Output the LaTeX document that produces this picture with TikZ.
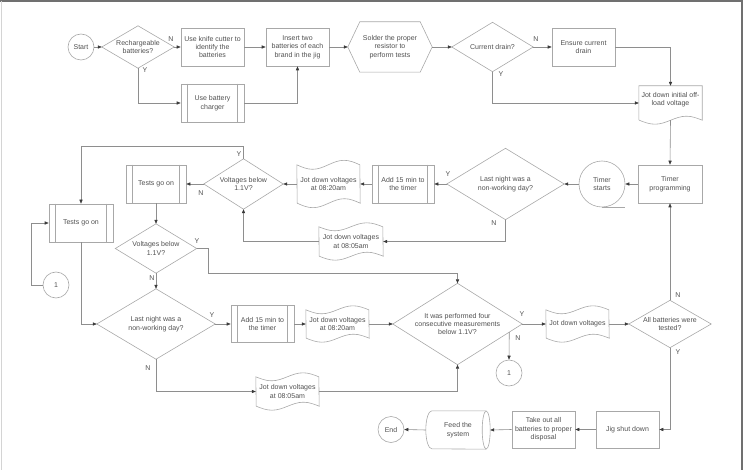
\documentclass[tikz,border=0pt]{standalone}
\usepackage{fontspec}
\setmainfont{Liberation Sans}
\usetikzlibrary{arrows.meta,calc}
\definecolor{shpc}{HTML}{A8A8A8}
\definecolor{conc}{HTML}{8E8E8E}
\definecolor{txtc}{HTML}{505050}
\definecolor{arrc}{HTML}{3A3A3A}
\definecolor{frdark}{HTML}{707070}
\definecolor{frlight}{HTML}{D4D4D4}
\tikzset{
 shp/.style={draw=shpc, line width=0.6pt},
 txt/.style={font=\fontsize{7}{8.4}\selectfont, text=txtc, align=center, inner sep=0pt},
 ghost/.style={txt, rectangle},
 procbox/.style={txt, shp, rectangle, minimum width=63pt, minimum height=38pt},
 roundn/.style={txt, shp, circle, minimum size=26pt},
 con/.style={draw=conc, line width=0.6pt, -{Triangle[length=4pt,width=3.2pt,color=arrc]}},
 yn/.style={font=\fontsize{7}{8}\selectfont, text=txtc, inner sep=0pt},
}
\newcommand\mydiam[1]{\draw[shp] (#1.west) -- (#1.north) -- (#1.east) -- (#1.south) -- cycle;}
\newcommand\mypred[1]{\draw[shp] ([xshift=7pt]#1.north west) -- ([xshift=7pt]#1.south west) ([xshift=-7pt]#1.north east) -- ([xshift=-7pt]#1.south east);}
\newcommand\mytape[7]{%
 \node[ghost, minimum width=#4pt, minimum height=#5pt] (#1) at (#2,#3) {#7};
 \draw[shp] (#1.north west) sin ++(#4/4,#6) cos ++(#4/4,-#6) sin ++(#4/4,-#6) cos ++(#4/4,#6) -- (#1.south east) sin ++(-#4/4,-#6) cos ++(-#4/4,#6) sin ++(-#4/4,#6) cos ++(-#4/4,-#6) -- cycle;
}
\newcommand\mydoc[7]{%
 \node[ghost, minimum width=#4pt, minimum height=#5pt] (#1) at (#2,#3) {};
 \node[txt] (#1t) at ([yshift=3.5pt]#1.center) {#7};
 \draw[shp] (#1.south west) -- (#1.north west) -- (#1.north east) -- (#1.south east) sin ++(-#4/4,-#6) cos ++(-#4/4,#6) sin ++(-#4/4,#6) cos ++(-#4/4,-#6);
}
\begin{document}
\begin{tikzpicture}[x=1pt,y=-1pt]
\useasboundingbox (0,0) rectangle (746,470);
\draw[frdark, line width=1.5pt] (0,1) -- (742,1) -- (742,470);
\draw[frlight, line width=1pt] (1,1) -- (1,470);

% row 1
\node[roundn] (start) at (81,47) {Start};
\node[ghost, minimum width=72pt, minimum height=42pt] (rech) at (138,47) {Rechargeable\\batteries?};
\mydiam{rech}
\node[procbox] (knife) at (212.5,47) {Use knife cutter to\\identify the\\batteries};
\node[procbox] (charger) at (212.5,103) {Use battery\\charger};
\mypred{charger}
\node[procbox] (insert) at (297.5,47) {Insert two\\batteries of each\\brand in the jig};
\node[ghost, minimum width=84pt, minimum height=50pt] (solder) at (390,47) {Solder the proper\\resistor to\\perform tests};
\draw[shp] (solder.west) -- ([xshift=12pt]solder.north west) -- ([xshift=-12pt]solder.north east) -- (solder.east) -- ([xshift=-12pt]solder.south east) -- ([xshift=12pt]solder.south west) -- cycle;
\node[ghost, minimum width=81pt, minimum height=49pt] (cdrain) at (492.5,47) {Current drain?};
\mydiam{cdrain}
\node[procbox] (ensure) at (583.5,47) {Ensure current\\drain};
\mydoc{initial}{670.5}{103}{63}{34}{4}{Jot down initial off-\\load voltage}

% row 2
\node[procbox, minimum width=64pt] (tprog) at (670,184) {Timer\\programming};
\node[roundn, minimum size=46pt] (tstart) at (602,184) {Timer\\starts};
\draw[shp] (tstart.south) -- ++(23,0);
\node[ghost, minimum width=117pt, minimum height=71pt] (last1) at (505.5,184) {Last night was a\\non-working day?};
\mydiam{last1}
\node[procbox, minimum width=62pt] (add1) at (403,184) {Add 15 min to\\the timer};
\mypred{add1}
\mytape{tapeA}{328.5}{184}{63}{38}{4.5}{Jot down voltages\\at 08:20am}
\mytape{tapeB}{351}{241.5}{64}{29}{4}{Jot down voltages\\at 08:05am}
\node[ghost, minimum width=79pt, minimum height=50pt] (volt1) at (243.5,184) {Voltages below\\1.1V?};
\mydiam{volt1}
\node[procbox, minimum width=60pt] (tests1) at (156,184) {Tests go on};
\mypred{tests1}
\node[procbox, minimum width=64pt] (tests2) at (81,223) {Tests go on};
\mypred{tests2}
\node[roundn] (conA) at (56,285) {1};
\node[ghost, minimum width=81pt, minimum height=49pt] (volt2) at (156,248.5) {Voltages below\\1.1V?};
\mydiam{volt2}

% row 3
\node[ghost, minimum width=118pt, minimum height=70pt] (last2) at (156,324) {Last night was a\\non-working day?};
\mydiam{last2}
\node[procbox, minimum height=37pt] (add2) at (262.5,324) {Add 15 min to\\the timer};
\mypred{add2}
\mytape{tapeC}{337.5}{324}{63}{28}{4}{Jot down voltages\\at 08:20am}
\mytape{tapeD}{287.5}{391.5}{63}{29}{4}{Jot down voltages\\at 08:05am}
\node[ghost, minimum width=129pt, minimum height=81pt] (perf) at (457.5,324) {It was performed four\\consecutive measurements\\below 1.1V?};
\mydiam{perf}
\node[roundn] (conB) at (509,373) {1};
\mytape{jot}{577.5}{324}{63}{28}{4}{Jot down voltages};
\node[ghost, minimum width=82pt, minimum height=47pt] (allbat) at (670,324) {All batteries were\\tested?};
\mydiam{allbat}

% row 4
\node[procbox, minimum height=37pt] (jig) at (627.5,429.5) {Jig shut down};
\node[procbox, minimum height=37pt] (takeout) at (543.5,429.5) {Take out all\\batteries to proper\\disposal};
\node[ghost, minimum width=64pt, minimum height=38pt] (feed) at (458,430) {Feed the\\system};
\draw[shp] ([xshift=-4pt]feed.north east) -- ([xshift=6pt]feed.north west) arc[start angle=270,end angle=90,x radius=6,y radius=19] -- ([xshift=-4pt]feed.south east);
\draw[shp] ([xshift=-4pt]feed.east) ellipse [x radius=4, y radius=19];
\node[roundn] (endn) at (391,429.5) {End};

% connectors
\draw[con] (start.east) -- (rech.west);
\draw[con] (rech.east) -- (knife.west);
\draw[con] (rech.south) |- (charger.west);
\draw[con] (knife.east) -- (insert.west);
\draw[con] (charger.east) -| (insert.south);
\draw[con] (insert.east) -- (solder.west);
\draw[con] (solder.east) -- (cdrain.west);
\draw[con] (cdrain.east) -- (ensure.west);
\draw[con] (ensure.east) -| (initial.north);
\draw[con] (cdrain.south) |- (initial.west);
\draw[con] (initial.south) -- (tprog.north);
\draw[con] (tprog.west) -- (tstart.east);
\draw[con] (tstart.west) -- (last1.east);
\draw[con] (last1.west) -- (add1.east);
\draw[con] (last1.south) |- (tapeB.east);
\draw[con] (add1.west) -- (tapeA.east);
\draw[con] (tapeA.west) -- (volt1.east);
\draw[con] (tapeB.west) -| (volt1.south);
\draw[con] (volt1.west) -- (tests1.east);
\draw[con] (volt1.north) -- ++(0,-12) -| (tests2.north);
\draw[con] (conA.west) -- ++(-11,0) |- (tests2.west);
\draw[con] (tests2.south) |- (last2.west);
\draw[con] (tests1.south) -- (volt2.north);
\draw[con] (volt2.east) -- ++(12,0) |- ($(perf.north)+(0,-10)$) -- (perf.north);
\draw[con] (volt2.south) -- (last2.north);
\draw[con] (last2.east) -- (add2.west);
\draw[con] (add2.east) -- (tapeC.west);
\draw[con] (tapeC.east) -- (perf.west);
\draw[con] (last2.south) |- (tapeD.west);
\draw[con] (tapeD.east) -| (perf.south);
\draw[con] (perf.east) -- (jot.west);
\coordinate (perfN) at ($(perf.east)!0.2!(perf.south)$);
\draw[con] (perfN) -- (conB.north);
\draw[con] (jot.east) -- (allbat.west);
\draw[con] (allbat.north) -- (tprog.south);
\draw[con] (allbat.south) |- (jig.east);
\draw[con] (jig.west) -- (takeout.east);
\draw[con] (takeout.west) -- (feed.east);
\draw[con] (feed.west) -- (endn.east);

% labels
\node[yn] (la1) at (171,39) {N};
\node[yn] (la2) at (145,70) {Y};
\node[yn] (la3) at (536,39) {N};
\node[yn] (la4) at (501,74) {Y};
\node[yn] (la5) at (448,174) {Y};
\node[yn] (la6) at (494,223) {N};
\node[yn] (la7) at (201,193) {N};
\node[yn] (la8) at (239,154) {Y};
\node[yn] (la9) at (197,241) {Y};
\node[yn] (la10) at (152,278) {N};
\node[yn] (la11) at (212,315) {Y};
\node[yn] (la12) at (148,368) {N};
\node[yn] (la13) at (522,314) {Y};
\node[yn] (la14) at (518,338) {N};
\node[yn] (la15) at (678,295) {N};
\node[yn] (la16) at (678,352) {Y};
\end{tikzpicture}
\end{document}
